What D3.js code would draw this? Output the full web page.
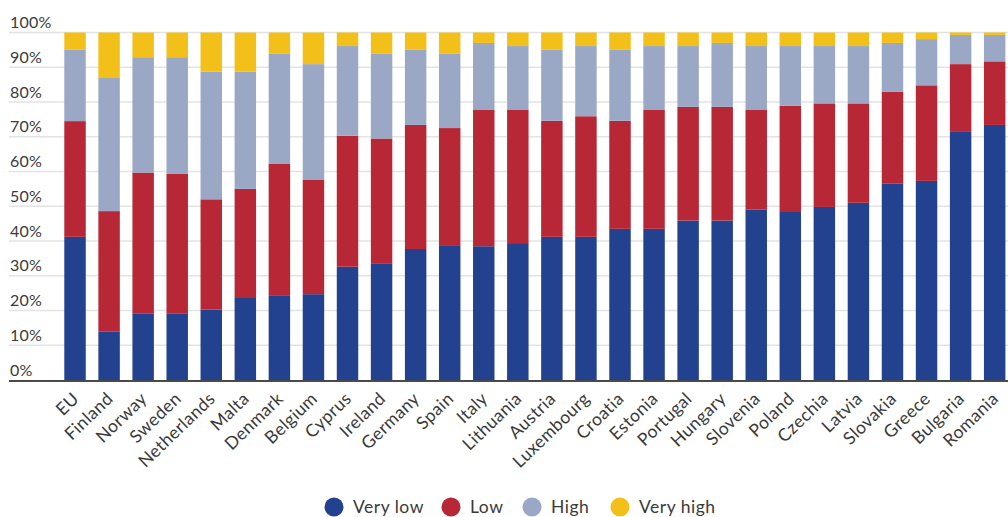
<!DOCTYPE html>
<html>
<head>
<meta charset="utf-8">
<script src="https://cdn.jsdelivr.net/npm/d3@7"></script>
<style>
  html, body { margin: 0; padding: 0; background: #fff; }
  svg { display: block; font-family: Lato, "Open Sans", sans-serif; }
</style>
</head>
<body>
<svg id="chart" width="1008" height="517"></svg>
<script>
// Country categories (EU average first)
const categories = ["EU", "Finland", "Norway", "Sweden", "Netherlands", "Malta", "Denmark", "Belgium",
  "Cyprus", "Ireland", "Germany", "Spain", "Italy", "Lithuania", "Austria", "Luxembourg", "Croatia",
  "Estonia", "Portugal", "Hungary", "Slovenia", "Poland", "Czechia", "Latvia", "Slovakia", "Greece",
  "Bulgaria", "Romania"];

// Share of respondents per level (%)
const veryLow  = [41.2, 14.0, 19.2, 19.2, 20.3, 23.6, 24.4, 24.7, 32.6, 33.6, 37.7, 38.8, 38.5, 39.4,
  41.2, 41.2, 43.5, 43.5, 45.9, 45.9, 49.0, 48.6, 49.8, 51.0, 56.6, 57.3, 71.6, 73.4];
const low      = [33.3, 34.6, 40.5, 40.1, 31.7, 31.4, 37.9, 33.0, 37.7, 35.9, 35.7, 33.7, 39.2, 38.3,
  33.4, 34.7, 31.1, 34.2, 32.7, 32.7, 28.7, 30.3, 29.8, 28.6, 26.4, 27.5, 19.3, 18.3];
const high     = [20.5, 38.3, 33.2, 33.6, 36.7, 33.7, 31.7, 33.2, 25.8, 24.5, 21.6, 21.5, 19.3, 18.4,
  20.4, 20.2, 20.4, 18.4, 17.5, 18.4, 18.4, 17.2, 16.5, 16.5, 14.0, 13.3, 8.4, 7.6];
const veryHigh = [5.0, 13.1, 7.1, 7.1, 11.3, 11.3, 6.0, 9.1, 3.9, 6.0, 5.0, 6.0, 3.0, 3.9,
  5.0, 3.9, 5.0, 3.9, 3.9, 3.0, 3.9, 3.9, 3.9, 3.9, 3.0, 1.9, 0.7, 0.7];

const seriesNames = ["Very low", "Low", "High", "Very high"];
const seriesColors = ["#22418f", "#b82735", "#9aa8c6", "#f2c019"];
const yTicks = [0, 10, 20, 30, 40, 50, 60, 70, 80, 90, 100];

const rows = categories.map((c, i) => ({
  country: c,
  "Very low": veryLow[i],
  "Low": low[i],
  "High": high[i],
  "Very high": veryHigh[i]
}));

const svg = d3.select("#chart");
const plotLeft = 58, plotRight = 1011.7, plotTop = 32.5, plotBottom = 380;

const x = d3.scaleBand()
  .domain(categories)
  .range([plotLeft, plotRight])
  .paddingInner(0.37)
  .paddingOuter(0.185);

const y = d3.scaleLinear().domain([0, 100]).range([plotBottom, plotTop]);
const color = d3.scaleOrdinal().domain(seriesNames).range(seriesColors);

// Horizontal gridlines with labels sitting above each line
const grid = svg.append("g");
grid.selectAll("line")
  .data(yTicks.filter(t => t > 0))
  .join("line")
  .attr("x1", 9).attr("x2", 1008)
  .attr("y1", d => y(d)).attr("y2", d => y(d))
  .attr("stroke", "#e3e3e3").attr("stroke-width", 1.5);

grid.selectAll("text")
  .data(yTicks)
  .join("text")
  .attr("x", 10)
  .attr("y", d => y(d) - 4.5)
  .attr("font-size", 16)
  .attr("letter-spacing", 0.2)
  .attr("fill", "#3a3a3a")
  .text(d => d + "%");

// Stacked bars
const stacked = d3.stack().keys(seriesNames)(rows);
svg.append("g")
  .selectAll("g")
  .data(stacked)
  .join("g")
  .attr("fill", d => color(d.key))
  .selectAll("rect")
  .data(d => d)
  .join("rect")
  .attr("x", d => x(d.data.country))
  .attr("width", x.bandwidth())
  .attr("y", d => y(d[1]))
  .attr("height", d => y(d[0]) - y(d[1]));

// Baseline
svg.append("line")
  .attr("x1", 9).attr("x2", 1008)
  .attr("y1", plotBottom + 1).attr("y2", plotBottom + 1)
  .attr("stroke", "#4a4a4a").attr("stroke-width", 2);

// Rotated country labels
svg.append("g")
  .selectAll("text")
  .data(categories)
  .join("text")
  .attr("transform", d => `translate(${x(d) + x.bandwidth() / 2 + 5},${plotBottom + 20}) rotate(-44)`)
  .attr("text-anchor", "end")
  .attr("font-size", 17.5)
  .attr("letter-spacing", 0.4)
  .attr("fill", "#3a3a3a")
  .text(d => d);

// Legend
const legendItems = [
  { name: "Very low", cx: 334 },
  { name: "Low", cx: 451 },
  { name: "High", cx: 532 },
  { name: "Very high", cx: 620 }
];
const legend = svg.append("g");
legend.selectAll("circle")
  .data(legendItems)
  .join("circle")
  .attr("cx", d => d.cx).attr("cy", 507).attr("r", 9.5)
  .attr("fill", d => color(d.name));
legend.selectAll("text")
  .data(legendItems)
  .join("text")
  .attr("x", d => d.cx + 19).attr("y", 513)
  .attr("font-size", 17.5)
  .attr("letter-spacing", 0.5)
  .attr("fill", "#3a3a3a")
  .text(d => d.name);
</script>
</body>
</html>
